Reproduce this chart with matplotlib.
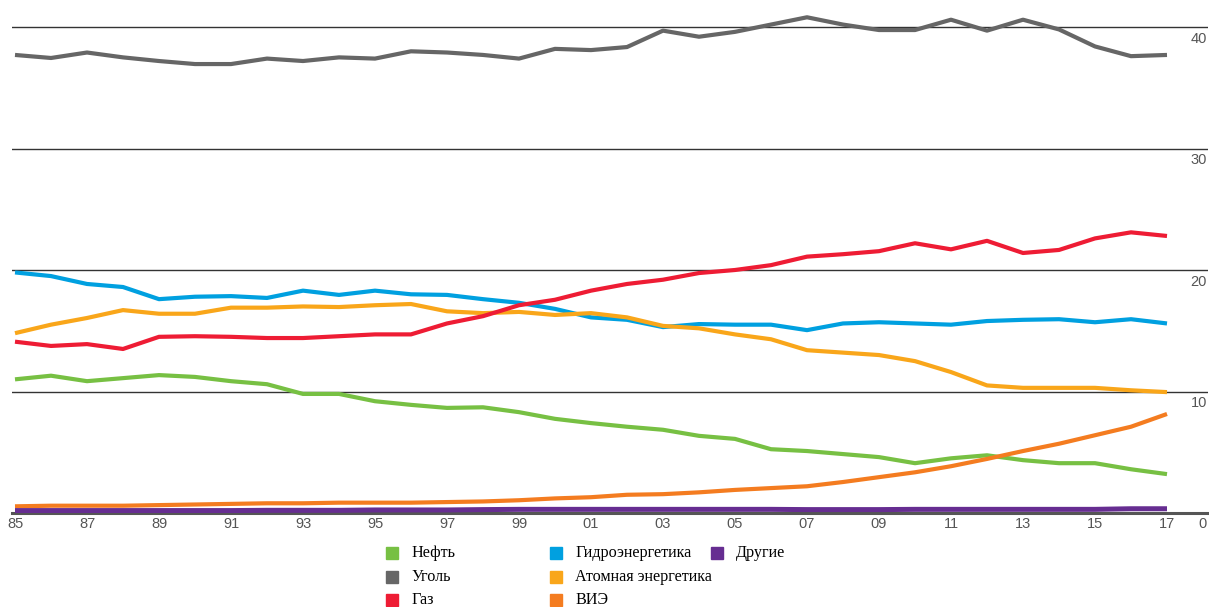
import matplotlib.pyplot as plt
from matplotlib.patches import Rectangle
from matplotlib.transforms import blended_transform_factory

years = list(range(1985, 2018))
year_labels = ["85", "87", "89", "91", "93", "95", "97", "99", "01",
               "03", "05", "07", "09", "11", "13", "15", "17"]

oil = [11.0, 11.3, 10.85, 11.1, 11.35, 11.2, 10.85, 10.6, 9.8, 9.8, 9.2,
       8.9, 8.65, 8.7, 8.3, 7.75, 7.4, 7.1, 6.85, 6.35, 6.1, 5.25, 5.1,
       4.85, 4.6, 4.1, 4.5, 4.75, 4.35, 4.1, 4.1, 3.6, 3.2]
coal = [37.7, 37.45, 37.9, 37.5, 37.2, 36.95, 36.95, 37.4, 37.2, 37.5, 37.4,
        38.0, 37.9, 37.7, 37.4, 38.2, 38.1, 38.35, 39.7, 39.2, 39.6, 40.2,
        40.8, 40.2, 39.75, 39.75, 40.6, 39.7, 40.6, 39.8, 38.4, 37.6, 37.7]
gas = [14.1, 13.75, 13.9, 13.5, 14.5, 14.55, 14.5, 14.4, 14.4, 14.55, 14.7,
       14.7, 15.6, 16.2, 17.1, 17.55, 18.3, 18.85, 19.2, 19.75, 20.0, 20.4,
       21.1, 21.3, 21.55, 22.2, 21.7, 22.4, 21.4, 21.65, 22.6, 23.1, 22.8]
hydro = [19.8, 19.5, 18.85, 18.6, 17.6, 17.8, 17.85, 17.7, 18.3, 17.95, 18.3,
         18.0, 17.95, 17.6, 17.3, 16.8, 16.1, 15.9, 15.3, 15.55, 15.5, 15.5,
         15.05, 15.6, 15.7, 15.6, 15.5, 15.8, 15.9, 15.95, 15.7, 15.95, 15.6]
nuclear = [14.8, 15.5, 16.05, 16.7, 16.4, 16.4, 16.9, 16.9, 17.0, 16.95, 17.1,
           17.2, 16.6, 16.45, 16.55, 16.3, 16.45, 16.1, 15.4, 15.2, 14.7, 14.3,
           13.4, 13.2, 13.0, 12.5, 11.6, 10.5, 10.3, 10.3, 10.3, 10.1, 9.95]
renew = [0.55, 0.6, 0.6, 0.6, 0.65, 0.7, 0.75, 0.8, 0.8, 0.85, 0.85,
         0.85, 0.9, 0.95, 1.05, 1.2, 1.3, 1.5, 1.55, 1.7, 1.9, 2.05,
         2.2, 2.55, 2.95, 3.35, 3.85, 4.45, 5.1, 5.7, 6.4, 7.1, 8.15]
other = [0.2, 0.2, 0.2, 0.2, 0.2, 0.2, 0.2, 0.22, 0.22, 0.22, 0.25,
         0.25, 0.25, 0.28, 0.3, 0.3, 0.3, 0.3, 0.3, 0.3, 0.3, 0.3,
         0.28, 0.28, 0.28, 0.3, 0.3, 0.3, 0.3, 0.3, 0.3, 0.35, 0.35]

names = ["Нефть", "Уголь", "Газ", "Гидроэнергетика", "Атомная энергетика",
         "ВИЭ", "Другие"]
colors = {"Нефть": "#77c043", "Уголь": "#666666", "Газ": "#ee1c34",
          "Гидроэнергетика": "#00a0e0", "Атомная энергетика": "#f9a61a",
          "ВИЭ": "#f47c20", "Другие": "#662d91"}
series = {"Нефть": oil, "Уголь": coal, "Газ": gas, "Гидроэнергетика": hydro,
          "Атомная энергетика": nuclear, "ВИЭ": renew, "Другие": other}
yticks = [10, 20, 30, 40]

narrow = ["Liberation Sans Narrow", "Liberation Sans", "DejaVu Sans"]

W, H = 1209, 607
fig = plt.figure(figsize=(W / 100, H / 100), dpi=100)
ax = fig.add_axes([12 / W, (H - 513) / H, (1208 - 12) / W, 513 / H])
ax.set_xlim(1985 - 3 / 36, 2017 + 41 / 36)
ax.set_ylim(0, 513 / 12.15)

for y in yticks:
    ax.axhline(y, color="#333333", lw=1.0, zorder=1)
ax.axhline(0, color="#555555", lw=2.2, zorder=1, clip_on=False)

for nm in ["Уголь", "Гидроэнергетика", "Атомная энергетика", "Газ",
           "Нефть", "ВИЭ", "Другие"]:
    lw = 3.6 if nm == "Другие" else 3.0
    ax.plot(years, series[nm], color=colors[nm], lw=lw,
            solid_capstyle="butt", zorder=3)

for s in ax.spines.values():
    s.set_visible(False)
ax.set_yticks([])
ax.set_xticks(years[::2])
ax.set_xticklabels(year_labels, color="#555555", fontsize=10.5, family=narrow)
ax.tick_params(axis="x", length=0, pad=3)

tr = blended_transform_factory(ax.transAxes, ax.transData)
for y in yticks:
    ax.text(0.999, y - 0.4, str(y), transform=tr, ha="right", va="top",
            color="#555555", fontsize=10.5, family=narrow)
ax.text(0.999, -0.3, "0", transform=tr, ha="right", va="top",
        color="#555555", fontsize=10.5, family=narrow)

# legend drawn by hand, three columns
slots = [(392, 553), (392, 577), (392, 600),
         (556, 553), (556, 577), (556, 600), (717, 553)]
for nm, (px, py) in zip(names, slots):
    fig.patches.append(Rectangle(((px - 6) / W, (H - py - 6) / H), 12 / W, 12 / H,
                                 transform=fig.transFigure, color=colors[nm]))
    fig.text((px + 19) / W, (H - py) / H, nm, ha="left", va="center",
             fontsize=11.6, family=["Liberation Serif", "DejaVu Serif"])

fig.savefig("out.png", dpi=100)
